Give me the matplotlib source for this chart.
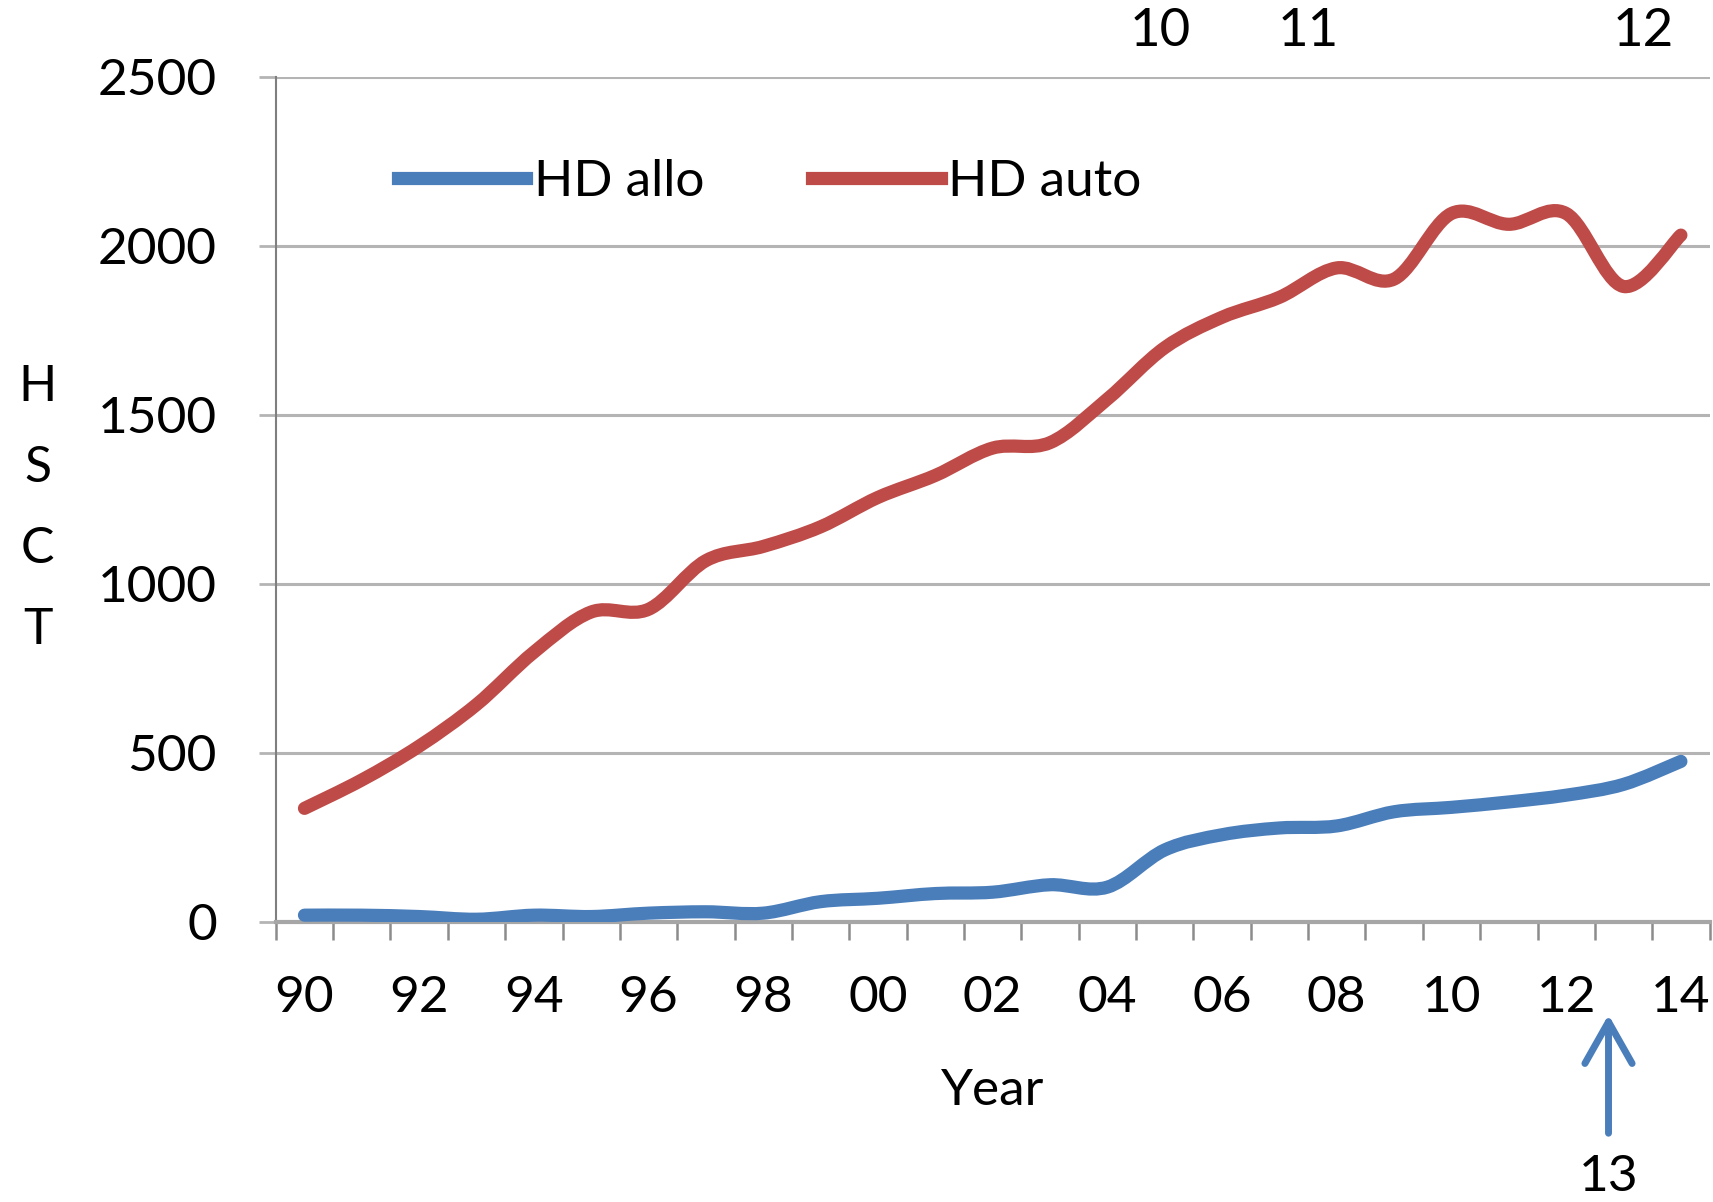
import numpy as np
import matplotlib
matplotlib.use('Agg')
import matplotlib.pyplot as plt
from matplotlib.path import Path
from matplotlib.patches import PathPatch
from matplotlib.lines import Line2D

plt.rcParams['font.family'] = ['Lato', 'DejaVu Sans']

# ── data ──
years = list(range(1990, 2015))
year_labels = ['90', '92', '94', '96', '98', '00', '02', '04', '06', '08', '10', '12', '14']
hd_allo = [20, 20, 16, 8, 20, 16, 26, 30, 26, 60, 70, 84, 88, 110, 103,
           213, 258, 278, 284, 326, 339, 355, 375, 407, 475]
hd_auto = [336, 420, 520, 643, 798, 917, 925, 1069, 1111, 1169, 1256, 1321, 1402, 1418, 1547,
           1699, 1789, 1848, 1935, 1902, 2096, 2064, 2096, 1880, 2032]
top_marks = ['10', '11', '12']

BLUE = '#4a7ebb'
RED = '#be4b48'
GRID = '#b4b4b4'


def smooth_path(xs, ys):
    # excel-style smoothed line: catmull-rom segments as cubic bezier
    xs = np.asarray(xs, float)
    ys = np.asarray(ys, float)
    pts = np.column_stack([xs, ys])
    n = len(pts)
    verts = [pts[0]]
    codes = [Path.MOVETO]
    for i in range(n - 1):
        p0 = pts[i - 1] if i > 0 else pts[i]
        p1 = pts[i]
        p2 = pts[i + 1]
        p3 = pts[i + 2] if i + 2 < n else pts[i + 1]
        c1 = p1 + (p2 - p0) / 6.0
        c2 = p2 - (p3 - p1) / 6.0
        verts += [c1, c2, p2]
        codes += [Path.CURVE4] * 3
    return Path(verts, codes)


fig = plt.figure(figsize=(17.13, 12.02), dpi=100)
ax = fig.add_axes([0.161, 0.233, 0.837, 0.703])

x = np.arange(len(years))
for vals, col in [(hd_allo, BLUE), (hd_auto, RED)]:
    ax.add_patch(PathPatch(smooth_path(x, vals), facecolor='none', edgecolor=col,
                           lw=9.5, capstyle='round', joinstyle='round', zorder=3))

ax.set_xlim(-0.5, len(years) - 0.5)
ax.set_ylim(0, 2500)

# y axis
ax.set_yticks([0, 500, 1000, 1500, 2000, 2500])
ax.yaxis.grid(True, color=GRID, lw=2.2)
ax.set_axisbelow(True)
ax.tick_params(axis='y', direction='out', length=12.5, width=2, color=GRID,
               labelsize=37, pad=30)

# x axis: ticks between categories, labels every other year
ax.set_xticks(np.arange(-0.5, len(years), 1.0))
ax.set_xticklabels([])
ax.tick_params(axis='x', which='major', direction='out', length=13, width=1.8, color='#8c8c8c')
ax.set_xticks(np.arange(0, len(years), 2), minor=True)
ax.set_xticklabels(year_labels, minor=True)
ax.tick_params(axis='x', which='minor', length=0, labelsize=37, pad=38)

for s in ['top', 'right']:
    ax.spines[s].set_visible(False)
ax.spines['left'].set_color('#7f7f7f')
ax.spines['left'].set_linewidth(1.5)
ax.spines['bottom'].set_color('#a6a6a6')
ax.spines['bottom'].set_linewidth(3)

ax.set_xlabel('Year', fontsize=37, labelpad=34)

handles = [Line2D([], [], color=BLUE, lw=9.5), Line2D([], [], color=RED, lw=9.5)]
ax.legend(handles, ['HD allo', 'HD auto'], loc='center left', bbox_to_anchor=(0.085, 0.876),
          ncol=2, frameon=False, fontsize=37, handlelength=2.5, handletextpad=0.15,
          columnspacing=2.1, borderpad=0, borderaxespad=0)

# y label as stacked letters
fig.text(0.022, 0.577, 'H\nS\nC\nT', fontsize=36, ha='center', va='center',
         linespacing=1.95)

# clipped marks at top
for lbl, fx in zip(top_marks, [0.6775, 0.7635, 0.9595]):
    fig.text(fx, 0.962, lbl, fontsize=38, ha='center', va='baseline')

# arrow pointing at 2013
fig.text(0.939, 0.009, '13', fontsize=37, ha='center', va='baseline')
ax.annotate('', xy=(0.939, 1 - 1012 / 1202), xytext=(0.939, 1 - 1136 / 1202),
            xycoords='figure fraction', textcoords='figure fraction',
            arrowprops=dict(arrowstyle='->,head_length=3.0,head_width=1.7',
                            mutation_scale=10, color=BLUE, lw=5))

fig.savefig('out.png', dpi=100)
